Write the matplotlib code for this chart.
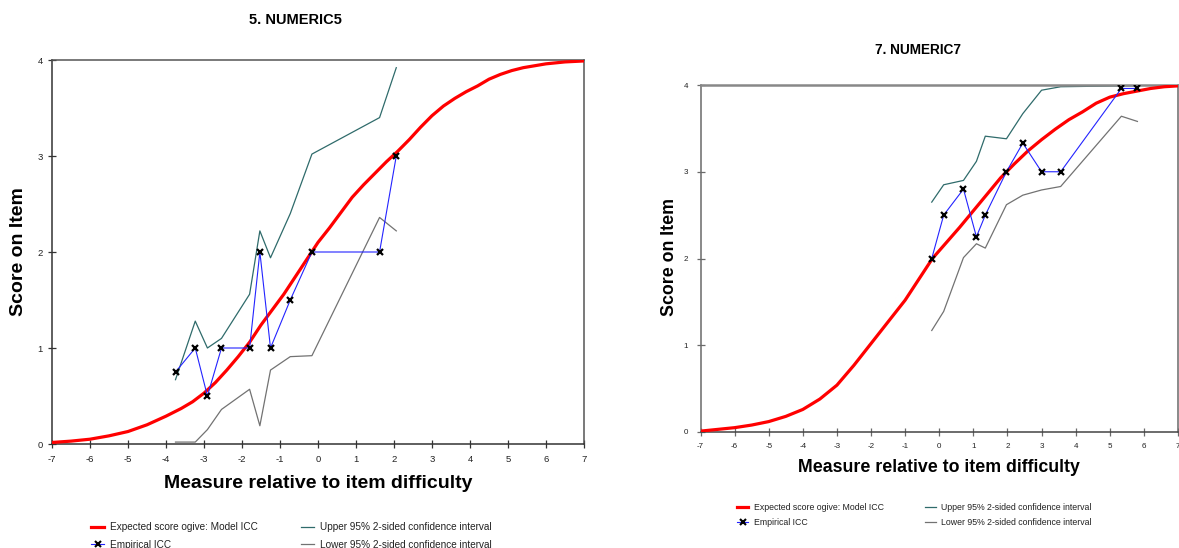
"""Two empirical ICC panels: NUMERIC5 and NUMERIC7"""
import matplotlib
matplotlib.use("Agg")
import matplotlib.pyplot as plt
from matplotlib.lines import Line2D

plt.rcParams['font.family'] = ['Liberation Sans', 'DejaVu Sans']
plt.rcParams['axes.unicode_minus'] = False

W, H = 1179, 548

# ---- panel 5. NUMERIC5 ----
n5_model_x = [-7, -6.5, -6, -5.5, -5, -4.5, -4, -3.6, -3.3, -3.0, -2.7, -2.4, -2.1, -1.8, -1.5, -1.2,
              -0.9, -0.6, -0.3, 0.0, 0.3, 0.6, 0.9, 1.2, 1.5, 1.8, 2.1, 2.4, 2.7, 3.0, 3.3, 3.6,
              3.9, 4.2, 4.5, 4.8, 5.1, 5.4, 5.7, 6.0, 6.5, 7.0]
n5_model_y = [0.016, 0.03, 0.05, 0.085, 0.13, 0.2, 0.29, 0.37, 0.44, 0.53, 0.64, 0.77, 0.91, 1.06, 1.24, 1.40,
              1.56, 1.74, 1.92, 2.10, 2.25, 2.41, 2.57, 2.70, 2.82, 2.94, 3.05, 3.17, 3.30, 3.42, 3.52, 3.60,
              3.67, 3.73, 3.80, 3.85, 3.89, 3.92, 3.94, 3.96, 3.98, 3.99]
n5_emp_x = [-3.75, -3.23, -2.91, -2.54, -1.80, -1.53, -1.25, -0.73, -0.16, 1.62, 2.06]
n5_emp_y = [0.75, 1.0, 0.5, 1.0, 1.0, 2.0, 1.0, 1.5, 2.0, 2.0, 3.0]
n5_upper = [0.67, 1.28, 1.00, 1.10, 1.56, 2.22, 1.94, 2.40, 3.02, 3.40, 3.92]
n5_lower = [0.02, 0.02, 0.15, 0.36, 0.57, 0.19, 0.77, 0.91, 0.92, 2.36, 2.22]

# ---- panel 7. NUMERIC7 ----
n7_model_x = [-7, -6.5, -6, -5.5, -5, -4.5, -4, -3.5, -3.0, -2.5, -2.0, -1.5, -1.0, -0.6, -0.2, 0.2,
              0.6, 1.0, 1.4, 1.8, 2.2, 2.6, 3.0, 3.4, 3.8, 4.2, 4.6, 5.0, 5.4, 5.8, 6.2, 6.6, 7.0]
n7_model_y = [0.01, 0.03, 0.05, 0.08, 0.12, 0.18, 0.26, 0.38, 0.54, 0.77, 1.02, 1.27, 1.52, 1.76, 2.00, 2.18,
              2.36, 2.55, 2.74, 2.93, 3.09, 3.24, 3.37, 3.49, 3.60, 3.69, 3.79, 3.86, 3.90, 3.93, 3.96, 3.98, 3.99]
n7_emp_x = [-0.22, 0.13, 0.71, 1.09, 1.35, 1.97, 2.45, 3.0, 3.56, 5.34, 5.81]
n7_emp_y = [2.0, 2.5, 2.8, 2.25, 2.5, 3.0, 3.33, 3.0, 3.0, 3.96, 3.96]
n7_upper = [2.65, 2.85, 2.90, 3.12, 3.41, 3.38, 3.67, 3.94, 3.98, 3.99, 3.99]
n7_lower = [1.17, 1.39, 2.01, 2.17, 2.12, 2.62, 2.73, 2.79, 2.83, 3.64, 3.58]

x_ticks = list(range(-7, 8))
y_ticks = [0, 1, 2, 3, 4]
legend_labels = ["Expected score ogive: Model ICC", "Empirical ICC",
                 "Upper 95% 2-sided confidence interval", "Lower 95% 2-sided confidence interval"]

RED = "#ff0000"
BLUE = "#2323ff"
UPPER_C = "#2f6b6b"
LOWER_C = "#727272"


def px_axes(fig, left, top, right, bottom):
    """axes from pixel box (left, top, right, bottom) measured from the top-left"""
    return fig.add_axes([left / W, 1 - bottom / H, (right - left) / W, (bottom - top) / H])


def draw_panel(ax, mx, my, ex, ey, up, lo, tick_fs, spine_c):
    ax.plot(ex, up, color=UPPER_C, lw=0.9, zorder=2)
    ax.plot(ex, lo, color=LOWER_C, lw=0.9, zorder=2)
    ax.plot(mx, my, color=RED, lw=2.3, zorder=3, solid_capstyle='butt', solid_joinstyle='round')
    ax.plot(ex, ey, color=BLUE, lw=0.8, zorder=4)
    ax.plot(ex, ey, ls='none', marker='x', ms=5, mew=1.6, color='black', zorder=5)
    ax.set_xlim(-7, 7)
    ax.set_ylim(0, 4)
    ax.set_xticks(x_ticks)
    ax.set_yticks(y_ticks)
    ax.tick_params(direction='inout', length=6, width=0.9, colors=spine_c,
                   labelcolor='#222222', labelsize=tick_fs)
    ax.tick_params(axis='x', pad=5)
    for s in ax.spines.values():
        s.set_color(spine_c)
        s.set_linewidth(1.1)


def add_legend(ax, x_px, y_px, fs, colsp, rowsp):
    handles = [Line2D([], [], color=RED, lw=2.3),
               Line2D([], [], color=BLUE, lw=0.8, marker='x', ms=4.5, mew=1.5, mec='black'),
               Line2D([], [], color=UPPER_C, lw=0.9),
               Line2D([], [], color=LOWER_C, lw=0.9)]
    ax.legend(handles, legend_labels, ncol=2, loc='center left',
              bbox_to_anchor=(x_px / W, 1 - y_px / H), bbox_transform=ax.figure.transFigure,
              frameon=False, fontsize=fs, handlelength=1.3, handletextpad=0.6,
              columnspacing=colsp, labelspacing=rowsp, borderpad=0, borderaxespad=0,
              labelcolor='#222222')


fig = plt.figure(figsize=(W / 100, H / 100), dpi=100)

ax1 = px_axes(fig, 52, 60, 584, 444)
draw_panel(ax1, n5_model_x, n5_model_y, n5_emp_x, n5_emp_y, n5_upper, n5_lower, 6.8, '#333333')
ax1.spines['top'].set_color('#555555')
ax1.spines['right'].set_color('#555555')
fig.text(295 / W, 1 - 20 / H, "5. NUMERIC5", ha='center', va='center', fontsize=10.5, fontweight='bold')
fig.text(318 / W, 1 - 484 / H, "Measure relative to item difficulty", ha='center', va='center',
         fontsize=14, fontweight='bold')
fig.text(19 / W, 1 - 252 / H, "Score on Item", ha='center', va='center', rotation=90,
         fontsize=14, fontweight='bold')
add_legend(ax1, 91, 536, 7.2, 4.3, 0.75)

ax2 = px_axes(fig, 700.5, 85, 1178, 432)
draw_panel(ax2, n7_model_x, n7_model_y, n7_emp_x, n7_emp_y, n7_upper, n7_lower, 5.8, '#6a6a6a')
ax2.spines['top'].set_linewidth(1.8)
ax2.spines['top'].set_color('#888888')
ax2.spines['bottom'].set_color('#444444')
ax2.tick_params(axis='y', pad=6)
fig.text(918 / W, 1 - 50 / H, "7. NUMERIC7", ha='center', va='center', fontsize=9.8, fontweight='bold')
fig.text(939 / W, 1 - 468 / H, "Measure relative to item difficulty", ha='center', va='center',
         fontsize=12.8, fontweight='bold')
fig.text(670 / W, 1 - 257 / H, "Score on Item", ha='center', va='center', rotation=90,
         fontsize=12.8, fontweight='bold')
add_legend(ax2, 737, 515, 6.3, 4.7, 0.65)

fig.savefig("out.png", dpi=100)
